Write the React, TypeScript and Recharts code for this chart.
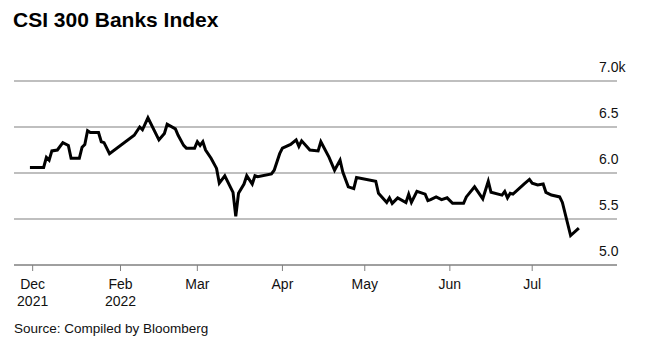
import React from "react";
import { LineChart, Line, XAxis, YAxis, CartesianGrid } from "recharts";

// days counted from 1 Jan 2022, values in thousands
const days = [
  -2, 3, 4, 5, 6, 8, 10, 12, 13, 16, 17, 18, 19, 20, 23, 24, 25, 27, 36, 38,
  39, 41, 45, 47, 48, 51, 52, 54, 55, 58, 59, 60, 61, 62, 64, 66, 67, 69, 72,
  73, 74, 76, 77, 79, 80, 81, 86, 87, 89, 90, 93, 95, 96, 97, 100, 103, 104,
  107, 109, 111, 112, 114, 116, 117, 124, 125, 128, 129, 130, 132, 135, 136,
  137, 139, 142, 143, 144, 146, 148, 150, 152, 156, 157, 160, 163, 165, 166,
  170, 171, 172, 173, 174, 178, 180, 181, 183, 185, 186, 188, 191, 192, 195,
  198,
];
const values = [
  6.06, 6.06, 6.17, 6.14, 6.24, 6.25, 6.33, 6.3, 6.16, 6.16, 6.28, 6.31, 6.46,
  6.44, 6.44, 6.34, 6.33, 6.21, 6.41, 6.5, 6.47, 6.6, 6.36, 6.43, 6.53, 6.48,
  6.41, 6.3, 6.27, 6.27, 6.34, 6.3, 6.34, 6.25, 6.16, 6.05, 5.89, 5.97, 5.79,
  5.53, 5.78, 5.88, 5.97, 5.88, 5.97, 5.96, 5.99, 6.03, 6.21, 6.27, 6.31, 6.36,
  6.29, 6.35, 6.25, 6.24, 6.34, 6.17, 6.03, 6.14, 6.01, 5.85, 5.83, 5.95, 5.91,
  5.78, 5.68, 5.73, 5.67, 5.73, 5.68, 5.77, 5.68, 5.8, 5.77, 5.7, 5.71, 5.74,
  5.71, 5.73, 5.67, 5.67, 5.74, 5.85, 5.72, 5.91, 5.79, 5.76, 5.8, 5.73, 5.78,
  5.77, 5.88, 5.93, 5.89, 5.87, 5.88, 5.79, 5.76, 5.74, 5.68, 5.32, 5.4,
];

const monthTicks = [-1, 31, 59, 90, 120, 151, 181];
const monthLabels = ["Dec", "Feb", "Mar", "Apr", "May", "Jun", "Jul"];
const yearLabels = ["2021", "2022", "", "", "", "", ""];
const valueTicks = [5.0, 5.5, 6.0, 6.5, 7.0];
const valueLabels = ["5.0", "5.5", "6.0", "6.5", "7.0k"];

const data = days.map((d, i) => ({ day: d, value: values[i] }));

const FONT = "'Liberation Sans', Arial, Helvetica, sans-serif";
const W = 665;
const H = 362;
const margin = { top: 81, right: 48, bottom: 67, left: 14 };
const plotRight = W - margin.right;

const MonthTick = (props: any) => {
  const { x, y, payload } = props;
  const i = monthTicks.indexOf(payload.value);
  return (
    <text x={x} textAnchor="middle" fontSize={14} fill="#111" fontFamily={FONT}>
      <tspan x={x} y={y + 16}>
        {monthLabels[i]}
      </tspan>
      <tspan x={x} y={y + 33}>
        {yearLabels[i]}
      </tspan>
    </text>
  );
};

const ValueTick = (props: any) => {
  const { y, payload } = props;
  const i = valueTicks.indexOf(payload.value);
  return (
    <text
      x={plotRight - 18}
      y={y - 9}
      textAnchor="start"
      fontSize={14}
      fill="#111"
      fontFamily={FONT}
    >
      {valueLabels[i]}
    </text>
  );
};

export default function App() {
  return (
    <div
      style={{
        position: "absolute",
        left: 0,
        top: 0,
        width: W,
        height: H,
        background: "#fff",
        fontFamily: FONT,
      }}
    >
      <div
        style={{
          position: "absolute",
          left: 13,
          top: 9,
          fontSize: 21,
          lineHeight: "21px",
          fontWeight: "bold",
          color: "#000",
        }}
      >
        CSI 300 Banks Index
      </div>
      <LineChart width={W} height={H} data={data} margin={margin}>
        <CartesianGrid vertical={false} stroke="#808080" strokeWidth={1.2} />
        <XAxis
          dataKey="day"
          type="number"
          domain={[-7.8, 211.9]}
          ticks={monthTicks}
          allowDataOverflow
          height={30}
          stroke="#808080"
          tickSize={6}
          tick={<MonthTick />}
          interval={0}
        />
        <YAxis
          orientation="right"
          mirror
          type="number"
          domain={[5, 7]}
          ticks={valueTicks}
          axisLine={false}
          tickLine={false}
          tick={<ValueTick />}
          interval={0}
        />
        <Line
          type="linear"
          dataKey="value"
          stroke="#000"
          strokeWidth={3}
          dot={false}
          isAnimationActive={false}
        />
      </LineChart>
      <div
        style={{
          position: "absolute",
          left: 14,
          top: 322,
          fontSize: 13.5,
          lineHeight: "13.5px",
          color: "#111",
        }}
      >
        Source: Compiled by Bloomberg
      </div>
    </div>
  );
}
